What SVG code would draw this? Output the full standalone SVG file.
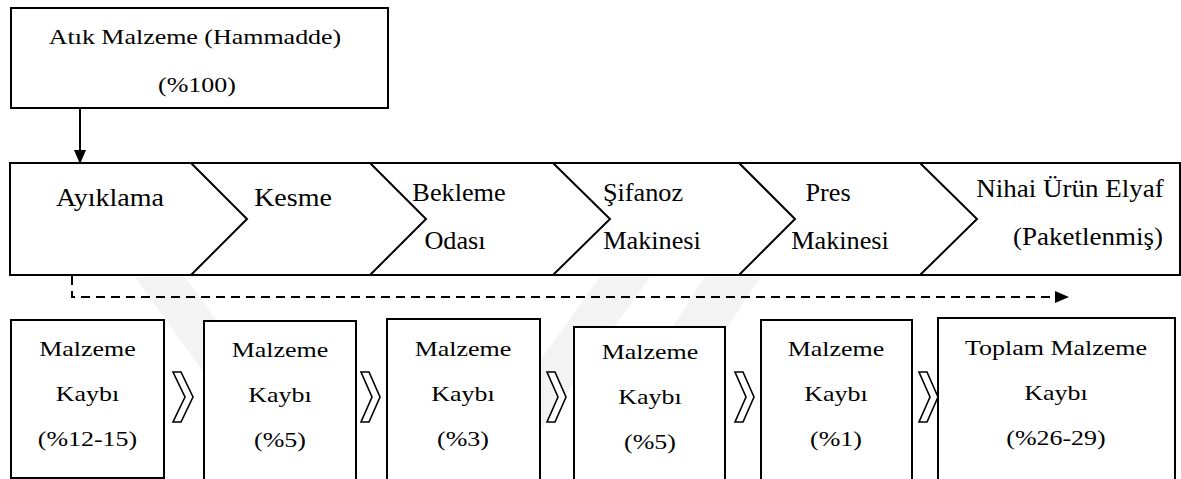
<svg xmlns="http://www.w3.org/2000/svg" width="1181" height="479" viewBox="0 0 1181 479">
<defs>
<style>
.bx{fill:#fff;stroke:#000;stroke-width:2}
.ln{fill:none;stroke:#000;stroke-width:2}
.dash{fill:none;stroke:#000;stroke-width:2;stroke-dasharray:9 6}
.ch{fill:#fff;stroke:#000;stroke-width:1.6;stroke-linejoin:miter}
.t{font-family:"Liberation Serif","Times New Roman",serif;font-size:22px;fill:#000;text-anchor:middle}
.tb{font-family:"Liberation Serif","Times New Roman",serif;font-size:25px;fill:#000;text-anchor:middle}
.wm{fill:#f3f3f3}
</style>
<marker id="ah" markerWidth="14" markerHeight="12" refX="13" refY="6" orient="auto" markerUnits="userSpaceOnUse" viewBox="0 0 14 12">
<path d="M0,0 L14,6 L0,12 Z" fill="#000"/>
</marker>
</defs>
<rect width="1181" height="479" fill="#fff"/>
<g id="watermark">
<polygon class="wm" points="135,277 185,277 330,479 280,479"/>
<polygon class="wm" points="600,277 650,277 505,479 455,479"/>
<polygon class="wm" points="705,277 760,277 630,479 575,479"/>
</g>
<g id="source">
<rect class="bx" x="11" y="8" width="377" height="100"/>
<text class="t" transform="matrix(1.18 0 0 1 195 44)">Atık Malzeme (Hammadde)</text>
<text class="t" transform="matrix(1.18 0 0 1 197 92)">(%100)</text>
</g>
<g id="process-band">
<rect class="bx" x="10" y="163" width="1170" height="112"/>
</g>
<g id="step-ayiklama">
<text class="tb" transform="matrix(1.12 0 0 1 110 206)">Ayıklama</text>
</g>
<g id="step-kesme">
<polyline class="ln" points="191,163 247,219 191,275"/>
<text class="tb" transform="matrix(1.12 0 0 1 293 206)">Kesme</text>
</g>
<g id="step-bekleme">
<polyline class="ln" points="370,163 426,219 370,275"/>
<text class="tb" transform="matrix(1.05 0 0 1 459 201)">Bekleme</text>
<text class="tb" transform="matrix(1.05 0 0 1 455 249)">Odası</text>
</g>
<g id="step-sifanoz">
<polyline class="ln" points="553,163 610,219 553,275"/>
<text class="tb" transform="matrix(1.05 0 0 1 643 201)">Şifanoz</text>
<text class="tb" transform="matrix(1.05 0 0 1 652 249)">Makinesi</text>
</g>
<g id="step-pres">
<polyline class="ln" points="739,163 795,219 739,275"/>
<text class="tb" transform="matrix(1.05 0 0 1 828 201)">Pres</text>
<text class="tb" transform="matrix(1.05 0 0 1 840 249)">Makinesi</text>
</g>
<g id="step-nihai">
<polyline class="ln" points="920,163 977,219 920,275"/>
<text class="tb" transform="matrix(1.08 0 0 1 1070 197)">Nihai Ürün Elyaf</text>
<text class="tb" transform="matrix(1.08 0 0 1 1088 245)">(Paketlenmiş)</text>
</g>
<g id="loss-1">
<rect class="bx" x="11" y="320" width="153" height="158"/>
<text class="t" transform="matrix(1.18 0 0 1 87.5 356)">Malzeme</text>
<text class="t" transform="matrix(1.18 0 0 1 87.5 401)">Kaybı</text>
<text class="t" transform="matrix(1.18 0 0 1 87.5 446)">(%12-15)</text>
</g>
<g id="loss-2">
<rect class="bx" x="204" y="321" width="152" height="160"/>
<text class="t" transform="matrix(1.18 0 0 1 280 357)">Malzeme</text>
<text class="t" transform="matrix(1.18 0 0 1 280 402)">Kaybı</text>
<text class="t" transform="matrix(1.18 0 0 1 280 447)">(%5)</text>
</g>
<g id="loss-3">
<rect class="bx" x="387" y="319" width="153" height="162"/>
<text class="t" transform="matrix(1.18 0 0 1 463 356)">Malzeme</text>
<text class="t" transform="matrix(1.18 0 0 1 463 401)">Kaybı</text>
<text class="t" transform="matrix(1.18 0 0 1 463 446)">(%3)</text>
</g>
<g id="loss-4">
<rect class="bx" x="574" y="327" width="151" height="154"/>
<text class="t" transform="matrix(1.18 0 0 1 650 359)">Malzeme</text>
<text class="t" transform="matrix(1.18 0 0 1 650 404)">Kaybı</text>
<text class="t" transform="matrix(1.18 0 0 1 650 449)">(%5)</text>
</g>
<g id="loss-5">
<rect class="bx" x="761" y="320" width="151" height="161"/>
<text class="t" transform="matrix(1.18 0 0 1 836 356)">Malzeme</text>
<text class="t" transform="matrix(1.18 0 0 1 836 401)">Kaybı</text>
<text class="t" transform="matrix(1.18 0 0 1 836 446)">(%1)</text>
</g>
<g id="loss-total">
<rect class="bx" x="938" y="318" width="237" height="163"/>
<text class="t" transform="matrix(1.18 0 0 1 1056 355)">Toplam Malzeme</text>
<text class="t" transform="matrix(1.18 0 0 1 1056 400)">Kaybı</text>
<text class="t" transform="matrix(1.18 0 0 1 1056 445)">(%26-29)</text>
</g>
<g id="connectors">
<line class="ln" x1="80" y1="108" x2="80" y2="163" marker-end="url(#ah)"/>
<polyline class="dash" points="72,276 72,297 1068,297" marker-end="url(#ah)"/>
<polygon class="ch" points="173,372 181,372 193,397 181,422 173,422 185,397"/>
<polygon class="ch" points="361,372 369,372 380,397 369,422 361,422 372,397"/>
<polygon class="ch" points="547,372 555,372 566,397 555,422 547,422 558,397"/>
<polygon class="ch" points="735,372 743,372 754,397 743,422 735,422 746,397"/>
<polygon class="ch" points="919,372 927,372 938,397 927,422 919,422 930,397"/>
</g>
</svg>
